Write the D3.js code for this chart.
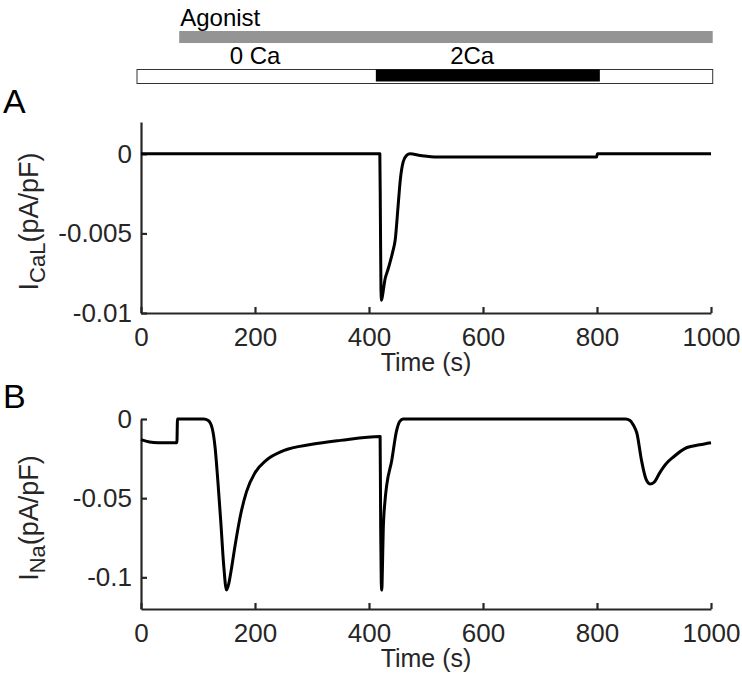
<!DOCTYPE html>
<html>
<head>
<meta charset="utf-8">
<script src="https://cdn.jsdelivr.net/npm/d3@7"></script>
<style>
  body { margin: 0; background: #fff; }
  svg { font-family: "Liberation Sans", Arial, sans-serif; }
  .axis path, .axis line { stroke: #262626; stroke-width: 2.2; }
  .axis text { fill: #262626; font-size: 26px; }
</style>
</head>
<body>
<div id="chart"></div>
<script>
// time (s) and I_CaL (pA/pF), panel A
let timeA = [0, 419, 420, 421, 422, 425, 428, 433, 437, 442, 446, 451, 455, 460, 466, 472, 490, 520, 560, 799.5, 800.5, 1000];
let iCaL  = [0, 0, -0.004, -0.0085, -0.0092, -0.0086, -0.0079, -0.0073, -0.0068, -0.0061, -0.0054, -0.0033, -0.0016, -0.0005, -0.0001, 0.0000, -0.0001, -0.0002, -0.0002, -0.0002, 0, 0];

// time (s) and I_Na (pA/pF), panel B
let timeB = [0, 15, 30, 63, 64, 70, 110, 118, 125, 130, 135, 140, 145, 150, 154, 158, 165, 175, 185, 200, 220, 250, 300, 350, 419.5, 420.5, 421.5, 422.5, 423.5, 425, 428, 431, 440, 448, 454, 460, 850, 858, 864, 870, 878, 886, 893, 900, 910, 922, 934, 958, 980, 1000];
let iNa   = [-0.013, -0.0145, -0.015, -0.015, 0, 0, 0, -0.001, -0.006, -0.018, -0.040, -0.065, -0.092, -0.108, -0.104, -0.096, -0.080, -0.060, -0.046, -0.034, -0.026, -0.020, -0.016, -0.0135, -0.011, -0.070, -0.103, -0.108, -0.095, -0.070, -0.052, -0.042, -0.026, -0.008, -0.0015, 0, 0, -0.001, -0.004, -0.009, -0.026, -0.038, -0.041, -0.040, -0.034, -0.028, -0.024, -0.018, -0.0163, -0.015];

let timeTicks = [0, 200, 400, 600, 800, 1000];
let ticksA = [0, -0.005, -0.01];
let ticksB = [0, -0.05, -0.1];

// protocol bars (s)
let agonistOn = [67, 1003];
let caBar = [-7, 1003];
let ca2On = [412, 805];

let width = 742, height = 687;
let svg = d3.select("#chart").append("svg")
    .attr("width", width)
    .attr("height", height);

let x = d3.scaleLinear().domain([0, 1000]).range([141, 711]);

// protocol annotation
svg.append("text").attr("x", x(agonistOn[0]) + 1).attr("y", 26)
    .style("font-size", "24px").attr("fill", "#000").text("Agonist");
svg.append("rect")
    .attr("x", x(agonistOn[0])).attr("y", 31)
    .attr("width", x(agonistOn[1]) - x(agonistOn[0])).attr("height", 12)
    .attr("fill", "#949494");
svg.append("text").attr("x", x(200)).attr("y", 64).attr("text-anchor", "middle")
    .style("font-size", "24px").text("0 Ca");
svg.append("text").attr("x", x(581)).attr("y", 64).attr("text-anchor", "middle")
    .style("font-size", "24px").text("2Ca");
svg.append("rect")
    .attr("x", x(caBar[0])).attr("y", 69.5)
    .attr("width", x(caBar[1]) - x(caBar[0])).attr("height", 14)
    .attr("fill", "#fff").attr("stroke", "#333").attr("stroke-width", 1);
svg.append("rect")
    .attr("x", x(ca2On[0])).attr("y", 69.5)
    .attr("width", x(ca2On[1]) - x(ca2On[0])).attr("height", 12)
    .attr("fill", "#000");

const panel = (opts) => {
  let y = d3.scaleLinear().domain(opts.domain).range([opts.bottom, opts.top]);
  let g = svg.append("g");

  g.append("g").attr("class", "axis")
      .attr("transform", "translate(0," + opts.bottom + ")")
      .call(d3.axisBottom(x).tickValues(timeTicks).tickSizeInner(-6).tickSizeOuter(0).tickPadding(15)
        .tickFormat(d => String(d)))
      .call(a => a.selectAll("text").attr("dy", "0.71em"));

  g.append("g").attr("class", "axis")
      .attr("transform", "translate(" + x(0) + ",0)")
      .call(d3.axisLeft(y).tickValues(opts.ticks).tickSizeInner(-6).tickSizeOuter(0).tickPadding(9)
        .tickFormat(d => String(d)));

  let line = d3.line()
      .x((d, i) => x(opts.t[i]))
      .y(d => y(d))
      .curve(d3.curveMonotoneX);
  g.append("path")
      .datum(opts.v)
      .attr("fill", "none")
      .attr("stroke", "#000")
      .attr("stroke-width", 3)
      .attr("stroke-linejoin", "round")
      .attr("d", line);

  // y label
  let yl = g.append("text")
      .attr("transform", "translate(38," + ((opts.top + opts.bottom) / 2 + 4) + ") rotate(-90)")
      .attr("text-anchor", "middle")
      .style("font-size", "27px").attr("fill", "#262626");
  yl.append("tspan").text("I");
  yl.append("tspan").attr("dy", 7).style("font-size", "22px").text(opts.sub);
  yl.append("tspan").attr("dy", -7).text("(pA/pF)");

  // x label
  g.append("text")
      .attr("x", (x(0) + x(1000)) / 2).attr("y", opts.bottom + 58)
      .attr("text-anchor", "middle")
      .style("font-size", "25px").attr("fill", "#262626")
      .text("Time (s)");

  // panel letter
  g.append("text").attr("x", 3).attr("y", opts.letterY)
      .style("font-size", "34px").attr("fill", "#000").text(opts.letter);
};

panel({t: timeA, v: iCaL, domain: [-0.01, 0.002], ticks: ticksA, top: 122, bottom: 313, sub: "CaL", letter: "A", letterY: 113});
panel({t: timeB, v: iNa, domain: [-0.12, 0], ticks: ticksB, top: 419, bottom: 609, sub: "Na", letter: "B", letterY: 408});
</script>
</body>
</html>
